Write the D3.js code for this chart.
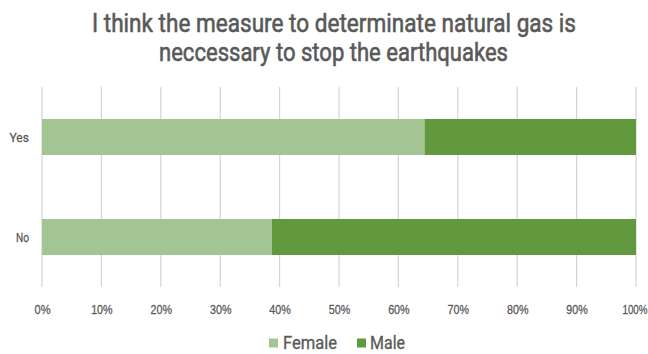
<!DOCTYPE html>
<html>
<head>
<meta charset="utf-8">
<script src="https://cdn.jsdelivr.net/npm/d3@7"></script>
<style>
  html, body { margin: 0; padding: 0; background: #fff; }
  svg { display: block; font-family: Roboto, "DejaVu Sans Condensed", sans-serif; }
</style>
</head>
<body>
<svg id="chart" width="648" height="354"></svg>
<script>
// Survey answers split by gender (share of each answer, in %)
const categories = ["Yes", "No"];
const seriesNames = ["Female", "Male"];
const female = [64.4, 38.7];
const male = [35.6, 61.3];
const tickValues = [0, 10, 20, 30, 40, 50, 60, 70, 80, 90, 100];
const titleLines = [
  "I think the measure to determinate natural gas is",
  "neccessary to stop the earthquakes"
];

const colors = { Female: "#a3c593", Male: "#62993e" };
const textColor = "#595959";
const W = 648;

const svg = d3.select("#chart");

const x = d3.scaleLinear().domain([0, 100]).range([42, 636]);
const y = d3.scaleBand().domain(categories).range([87, 287])
  .paddingInner(0.64).paddingOuter(0.32);

// Squeeze a text horizontally to a target width (condensed look)
function condense(sel, widthOf) {
  sel.attr("textLength", widthOf).attr("lengthAdjust", "spacingAndGlyphs");
}

// Medium-weight look: regular glyphs with a thin outline in the same colour
function medium(sel, w) {
  sel.attr("stroke", textColor).attr("stroke-width", w).attr("stroke-linejoin", "round");
}

// Title, two centred lines
const titleSpans = [[92, 576], [159, 508]];
svg.append("g").selectAll("text").data(titleLines).join("text")
  .attr("x", (d, i) => (titleSpans[i][0] + titleSpans[i][1]) / 2)
  .attr("y", (d, i) => 32 + i * 29)
  .attr("text-anchor", "middle")
  .attr("font-size", 26)
  .attr("fill", textColor)
  .text(d => d)
  .call(condense, (d, i) => titleSpans[i][1] - titleSpans[i][0])
  .call(medium, 0.6);

// Vertical gridlines
svg.append("g").selectAll("line").data(tickValues).join("line")
  .attr("x1", d => x(d)).attr("x2", d => x(d))
  .attr("y1", 87).attr("y2", 287)
  .attr("stroke", "#d4d4d4").attr("stroke-width", 1.2);

// Stacked bars
const rows = categories.map((c, i) => ({ cat: c, Female: female[i], Male: male[i] }));
const stacked = d3.stack().keys(seriesNames)(rows);

svg.append("g").selectAll("g").data(stacked).join("g")
  .attr("fill", s => colors[s.key])
  .selectAll("rect").data(s => s).join("rect")
  .attr("x", d => x(d[0]))
  .attr("width", d => x(d[1]) - x(d[0]))
  .attr("y", d => y(d.data.cat))
  .attr("height", y.bandwidth());

// Category labels
svg.append("g").selectAll("text").data(categories).join("text")
  .attr("x", 29)
  .attr("y", d => y(d) + y.bandwidth() / 2)
  .attr("dy", "0.35em")
  .attr("text-anchor", "end")
  .attr("font-size", 13.5)
  .attr("fill", textColor)
  .text(d => d)
  .call(condense, d => d.length * 6.5)
  .call(medium, 0.3);

// Percentage axis
const xAxis = d3.axisBottom(x).tickValues(tickValues).tickSize(0).tickPadding(0)
  .tickFormat(d => d + "%");
const ax = svg.append("g").attr("transform", "translate(0,309)").call(xAxis);
ax.select(".domain").remove();
ax.selectAll("text")
  .attr("y", 0).attr("dy", "0.35em")
  .attr("font-size", 13)
  .attr("font-family", null)
  .attr("fill", textColor)
  .call(condense, d => Math.min((String(d).length + 1) * 5.5 + 5, 25))
  .call(medium, 0.3);
// keep the last label inside the right edge
ax.selectAll(".tick").filter(d => d === 100).select("text")
  .attr("text-anchor", "end")
  .attr("x", W - 1 - x(100));

// Legend
const legend = svg.append("g").attr("transform", "translate(0,343)");
const legendItems = [
  { name: "Female", sx: 269, tx: 283, w: 54 },
  { name: "Male", sx: 357, tx: 370, w: 35 }
];
legend.selectAll("rect").data(legendItems).join("rect")
  .attr("x", d => d.sx).attr("y", -4.5)
  .attr("width", 9).attr("height", 9)
  .attr("fill", d => colors[d.name]);
legend.selectAll("text").data(legendItems).join("text")
  .attr("x", d => d.tx).attr("y", 0).attr("dy", "0.35em")
  .attr("font-size", 17.5)
  .attr("fill", textColor)
  .text(d => d.name)
  .call(condense, d => d.w)
  .call(medium, 0.3);
</script>
</body>
</html>
